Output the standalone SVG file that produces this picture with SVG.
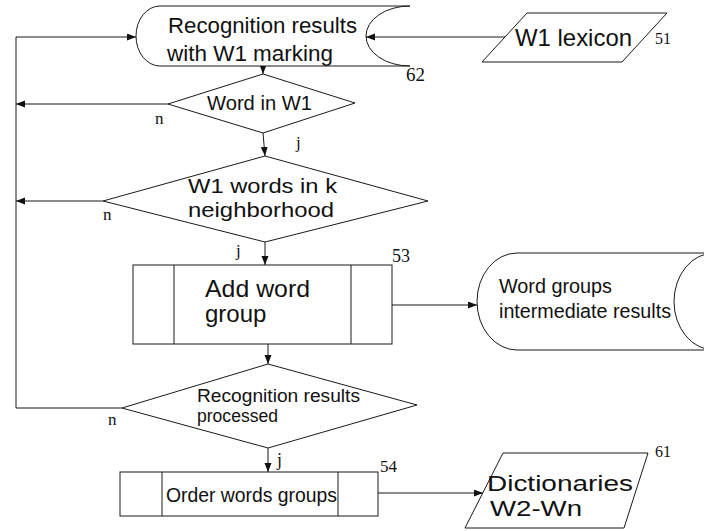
<svg xmlns="http://www.w3.org/2000/svg" width="704" height="531" viewBox="0 0 704 531">
<defs>
<marker id="ah" markerUnits="userSpaceOnUse" markerWidth="10" markerHeight="8" refX="9" refY="3.5" orient="auto">
<path d="M0,0 L9,3.5 L0,7 z" fill="#111"/>
</marker>
<style>
.s{fill:#fff;stroke:#1a1a1a;stroke-width:1}
.c{fill:none;stroke:#1a1a1a;stroke-width:1}
.a{marker-end:url(#ah)}
.t{font-family:"Liberation Sans",Arial,sans-serif;fill:#111}
.l{font-family:"Liberation Serif","Times New Roman",serif;fill:#111}
</style>
</defs>
<rect width="704" height="531" fill="#fff"/>

<g id="connectors">
<line class="c a" x1="505" y1="37" x2="366" y2="37"/>
<line class="c a" x1="263" y1="66" x2="263" y2="74"/>
<line class="c a" x1="168" y1="104" x2="16" y2="104"/>
<line class="c a" x1="263" y1="133" x2="265" y2="156"/>
<line class="c a" x1="103" y1="201" x2="16" y2="201"/>
<line class="c a" x1="265" y1="242" x2="265" y2="265"/>
<line class="c a" x1="392" y1="305" x2="477" y2="305"/>
<line class="c a" x1="268" y1="344" x2="268" y2="364"/>
<path class="c a" d="M122,408 H16 V37 H136"/>
<line class="c a" x1="268" y1="448" x2="268" y2="472"/>
<line class="c a" x1="378" y1="493" x2="483" y2="493"/>
<text class="l" x="155" y="124" font-size="17">n</text>
<text class="l" x="296" y="148" font-size="17">j</text>
<text class="l" x="103" y="220" font-size="17">n</text>
<text class="l" x="236" y="256" font-size="17">j</text>
<text class="l" x="108" y="425" font-size="17">n</text>
<text class="l" x="277" y="466" font-size="18">j</text>
</g>

<g id="n62">
<path class="s" d="M160,6 H410 A44,30 0 0 0 410,66 H160 A24,30 0 0 1 160,6 Z"/>
<text class="t" x="168" y="33" font-size="22" textLength="189" lengthAdjust="spacingAndGlyphs">Recognition results</text>
<text class="t" x="167" y="61" font-size="22" textLength="166" lengthAdjust="spacingAndGlyphs">with W1 marking</text>
<text class="l" x="406" y="81" font-size="19">62</text>
</g>

<g id="n51">
<polygon class="s" points="527,13 667,13 622,62 482,62"/>
<text class="t" x="515" y="46" font-size="24" textLength="117" lengthAdjust="spacingAndGlyphs">W1 lexicon</text>
<text class="l" x="655" y="44" font-size="16">51</text>
</g>

<g id="wordInW1">
<polygon class="s" points="168,104 263,74 355,103 263,133"/>
<text class="t" x="207" y="110" font-size="21" textLength="105" lengthAdjust="spacingAndGlyphs">Word in W1</text>
</g>

<g id="neighborhood">
<polygon class="s" points="103,201 265,156 428,201 265,242"/>
<text class="t" x="188" y="193" font-size="21" textLength="149" lengthAdjust="spacingAndGlyphs">W1 words in k</text>
<text class="t" x="188" y="217" font-size="21" textLength="146" lengthAdjust="spacingAndGlyphs">neighborhood</text>
</g>

<g id="n53">
<rect class="s" x="133" y="265" width="259" height="79"/>
<line class="c" x1="174" y1="265" x2="174" y2="344"/>
<line class="c" x1="351" y1="265" x2="351" y2="344"/>
<text class="t" x="205" y="297" font-size="24" textLength="105" lengthAdjust="spacingAndGlyphs">Add word</text>
<text class="t" x="205" y="322" font-size="24">group</text>
<text class="l" x="392" y="262" font-size="18">53</text>
</g>

<g id="wordGroups">
<path class="s" d="M517,253 H714 A40,48.5 0 0 0 714,350 H517 A40,48.5 0 0 1 517,253 Z"/>
<text class="t" x="499" y="293" font-size="20" textLength="113" lengthAdjust="spacingAndGlyphs">Word groups</text>
<text class="t" x="499" y="318" font-size="20" textLength="172" lengthAdjust="spacingAndGlyphs">intermediate results</text>
</g>

<g id="processed">
<polygon class="s" points="122,408 268,364 417,405 268,448"/>
<text class="t" x="197" y="402" font-size="18" textLength="163" lengthAdjust="spacingAndGlyphs">Recognition results</text>
<text class="t" x="197" y="422" font-size="18" textLength="81" lengthAdjust="spacingAndGlyphs">processed</text>
</g>

<g id="n54">
<rect class="s" x="120" y="472" width="258" height="44"/>
<line class="c" x1="162" y1="472" x2="162" y2="516"/>
<line class="c" x1="338" y1="472" x2="338" y2="516"/>
<text class="t" x="166" y="502" font-size="20" textLength="171" lengthAdjust="spacingAndGlyphs">Order words groups</text>
<text class="l" x="380" y="472" font-size="17">54</text>
</g>

<g id="n61">
<polygon class="s" points="503,453 648,453 624,528 465,528"/>
<text class="t" x="487" y="491" font-size="22" textLength="146" lengthAdjust="spacingAndGlyphs">Dictionaries</text>
<text class="t" x="490" y="516" font-size="22" textLength="92" lengthAdjust="spacingAndGlyphs">W2-Wn</text>
<text class="l" x="655" y="457" font-size="16">61</text>
</g>
</svg>
